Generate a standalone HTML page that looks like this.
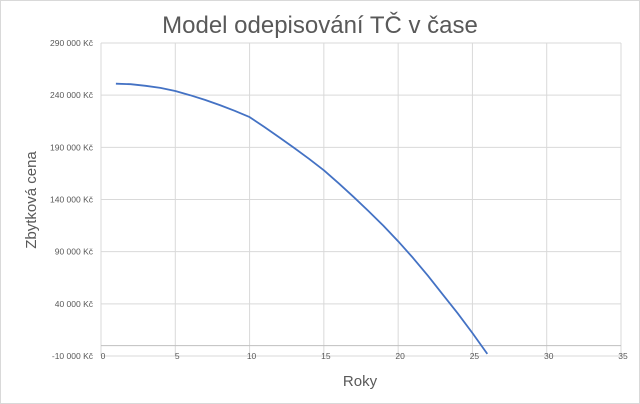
<!DOCTYPE html>
<html><head><meta charset="utf-8"><style>
body{margin:0;background:#fff;}
svg{display:block;font-family:"Liberation Sans",sans-serif;}
</style></head><body>
<svg width="640" height="404" viewBox="0 0 640 404">
<rect x="0.5" y="0.5" width="639" height="403" fill="#fff" stroke="#d9d9d9"/>
<text x="320" y="33" text-anchor="middle" font-size="24" fill="#595959">Model odepisování TČ v čase</text>
<text transform="translate(36,200) rotate(-90)" text-anchor="middle" font-size="15" fill="#595959">Zbytková cena</text>
<text x="360" y="386" text-anchor="middle" font-size="15" fill="#595959">Roky</text>
<g id="grid"></g><g id="axes"></g><g id="series"></g>
</svg>
<script>
const years=[1,2,3,4,5,6,7,8,9,10,11,12,13,14,15,16,17,18,19,20,21,22,23,24,25,26];
const values=[251000,250500,249000,247000,244000,240000,235500,230500,225000,219000,209500,199500,189500,179000,168000,155500,142500,129000,115000,100000,84000,67000,49000,31000,12000,-8000];
const yTicks=[-10000,40000,90000,140000,190000,240000,290000];
const yTickLabels=["-10 000 Kč","40 000 Kč","90 000 Kč","140 000 Kč","190 000 Kč","240 000 Kč","290 000 Kč"];
const xTicks=[0,5,10,15,20,25,30,35];
const NS="http://www.w3.org/2000/svg";
const X0=101,X1=621,Y0=356,Y1=43;
function sx(v){return X0+(v-0)/(35-0)*(X1-X0);}
function sy(v){return Y0-(v-(-10000))/(300000)*(Y0-Y1);}
function mk(t,a,p){const e=document.createElementNS(NS,t);for(const k in a)e.setAttribute(k,a[k]);p.appendChild(e);return e;}
const grid=document.getElementById('grid'),axes=document.getElementById('axes'),series=document.getElementById('series');
yTicks.forEach((v,i)=>{
 const l=mk('line',{x1:X0,x2:X1,y1:sy(v),y2:sy(v),stroke:'#d9d9d9','stroke-width':1},grid);
 
 
 const t=mk('text',{x:93,y:sy(v)+3,'text-anchor':'end','font-size':8.5,fill:'#595959'},axes);
 t.textContent=yTickLabels[i];
 
 
});
xTicks.forEach(v=>{
 const l=mk('line',{x1:sx(v),x2:sx(v),y1:Y1,y2:Y0,stroke:'#d9d9d9','stroke-width':1},grid);
 
 
 const t=mk('text',{x:sx(v)+2,y:Y0+3,'text-anchor':'middle','font-size':8.5,fill:'#595959'},axes);
 t.textContent=v;
 
 
});
const ax=mk('line',{x1:X0,x2:X1,y1:sy(0),y2:sy(0),stroke:'#bfbfbf','stroke-width':1},grid);


let d='';
years.forEach((x,i)=>{d+=(i?'L':'M')+sx(x).toFixed(1)+','+sy(values[i]).toFixed(1);});
const p=mk('path',{d:d,fill:'none',stroke:'#4472c4','stroke-width':1.8,'stroke-linejoin':'round'},series);


</script>
</body></html>
